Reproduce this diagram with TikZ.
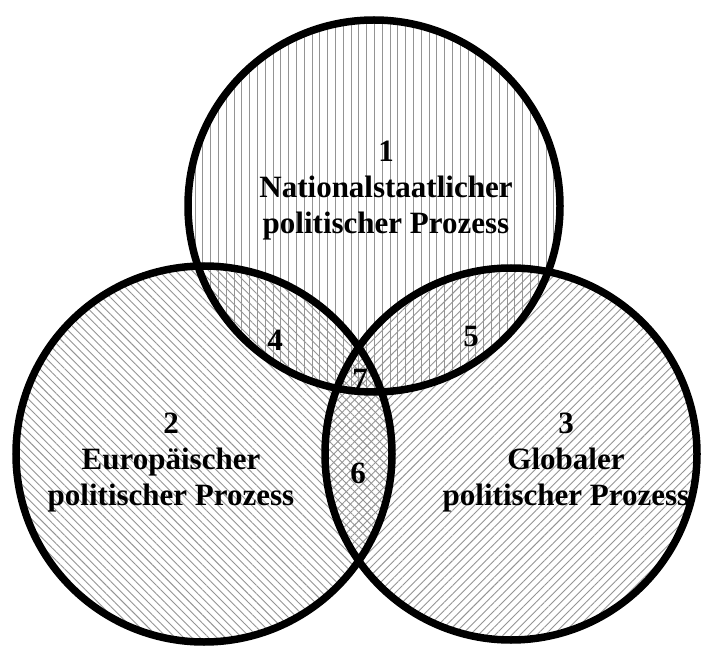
\documentclass[tikz,border=0pt]{standalone}
\usepackage{fontspec}
\setmainfont{Liberation Serif}
\usetikzlibrary{patterns.meta}

\begin{document}
\begin{tikzpicture}[x=1pt, y=1pt,
	ring/.style={line width=7.5pt},
	hatch/.style 2 args={pattern={Lines[angle=#1, distance=#2, line width=0.9pt]}, pattern color=black!42},
	label/.style={font=\bfseries\fontsize{31}{36}\selectfont, align=center, inner sep=0pt},
	num/.style={font=\bfseries\fontsize{31}{36}\selectfont, inner sep=0pt}]
	\useasboundingbox (0,0) rectangle (701,646);

	% Centres of the three circles
	\coordinate (nat) at (374,440);
	\coordinate (eur) at (204,192);
	\coordinate (glo) at (511,192);

	% Hatchings
	\fill [hatch={90}{7.8pt}]  (nat) circle [radius=186];
	\fill [hatch={-45}{5.9pt}] (eur) circle [radius=188];
	\fill [hatch={45}{5.9pt}]  (glo) circle [radius=186];

	% Outlines
	\draw [ring] (nat) circle [radius=186];
	\draw [ring] (eur) circle [radius=188];
	\draw [ring] (glo) circle [radius=186];

	% Main labels
	\node [label] (l1) at (386,455) {1\\Nationalstaatlicher\\politischer Prozess};
	\node [label] (l2) at (171,183) {2\\Europäischer\\politischer Prozess};
	\node [label] (l3) at (566,183) {3\\Globaler\\politischer Prozess};

	% Overlap numbers
	\node [num] (n4) at (275,306) {4};
	\node [num] (n5) at (471,309) {5};
	\node [num] (n7) at (360,267) {7};
	\node [num] (n6) at (358,173) {6};
\end{tikzpicture}
\end{document}
